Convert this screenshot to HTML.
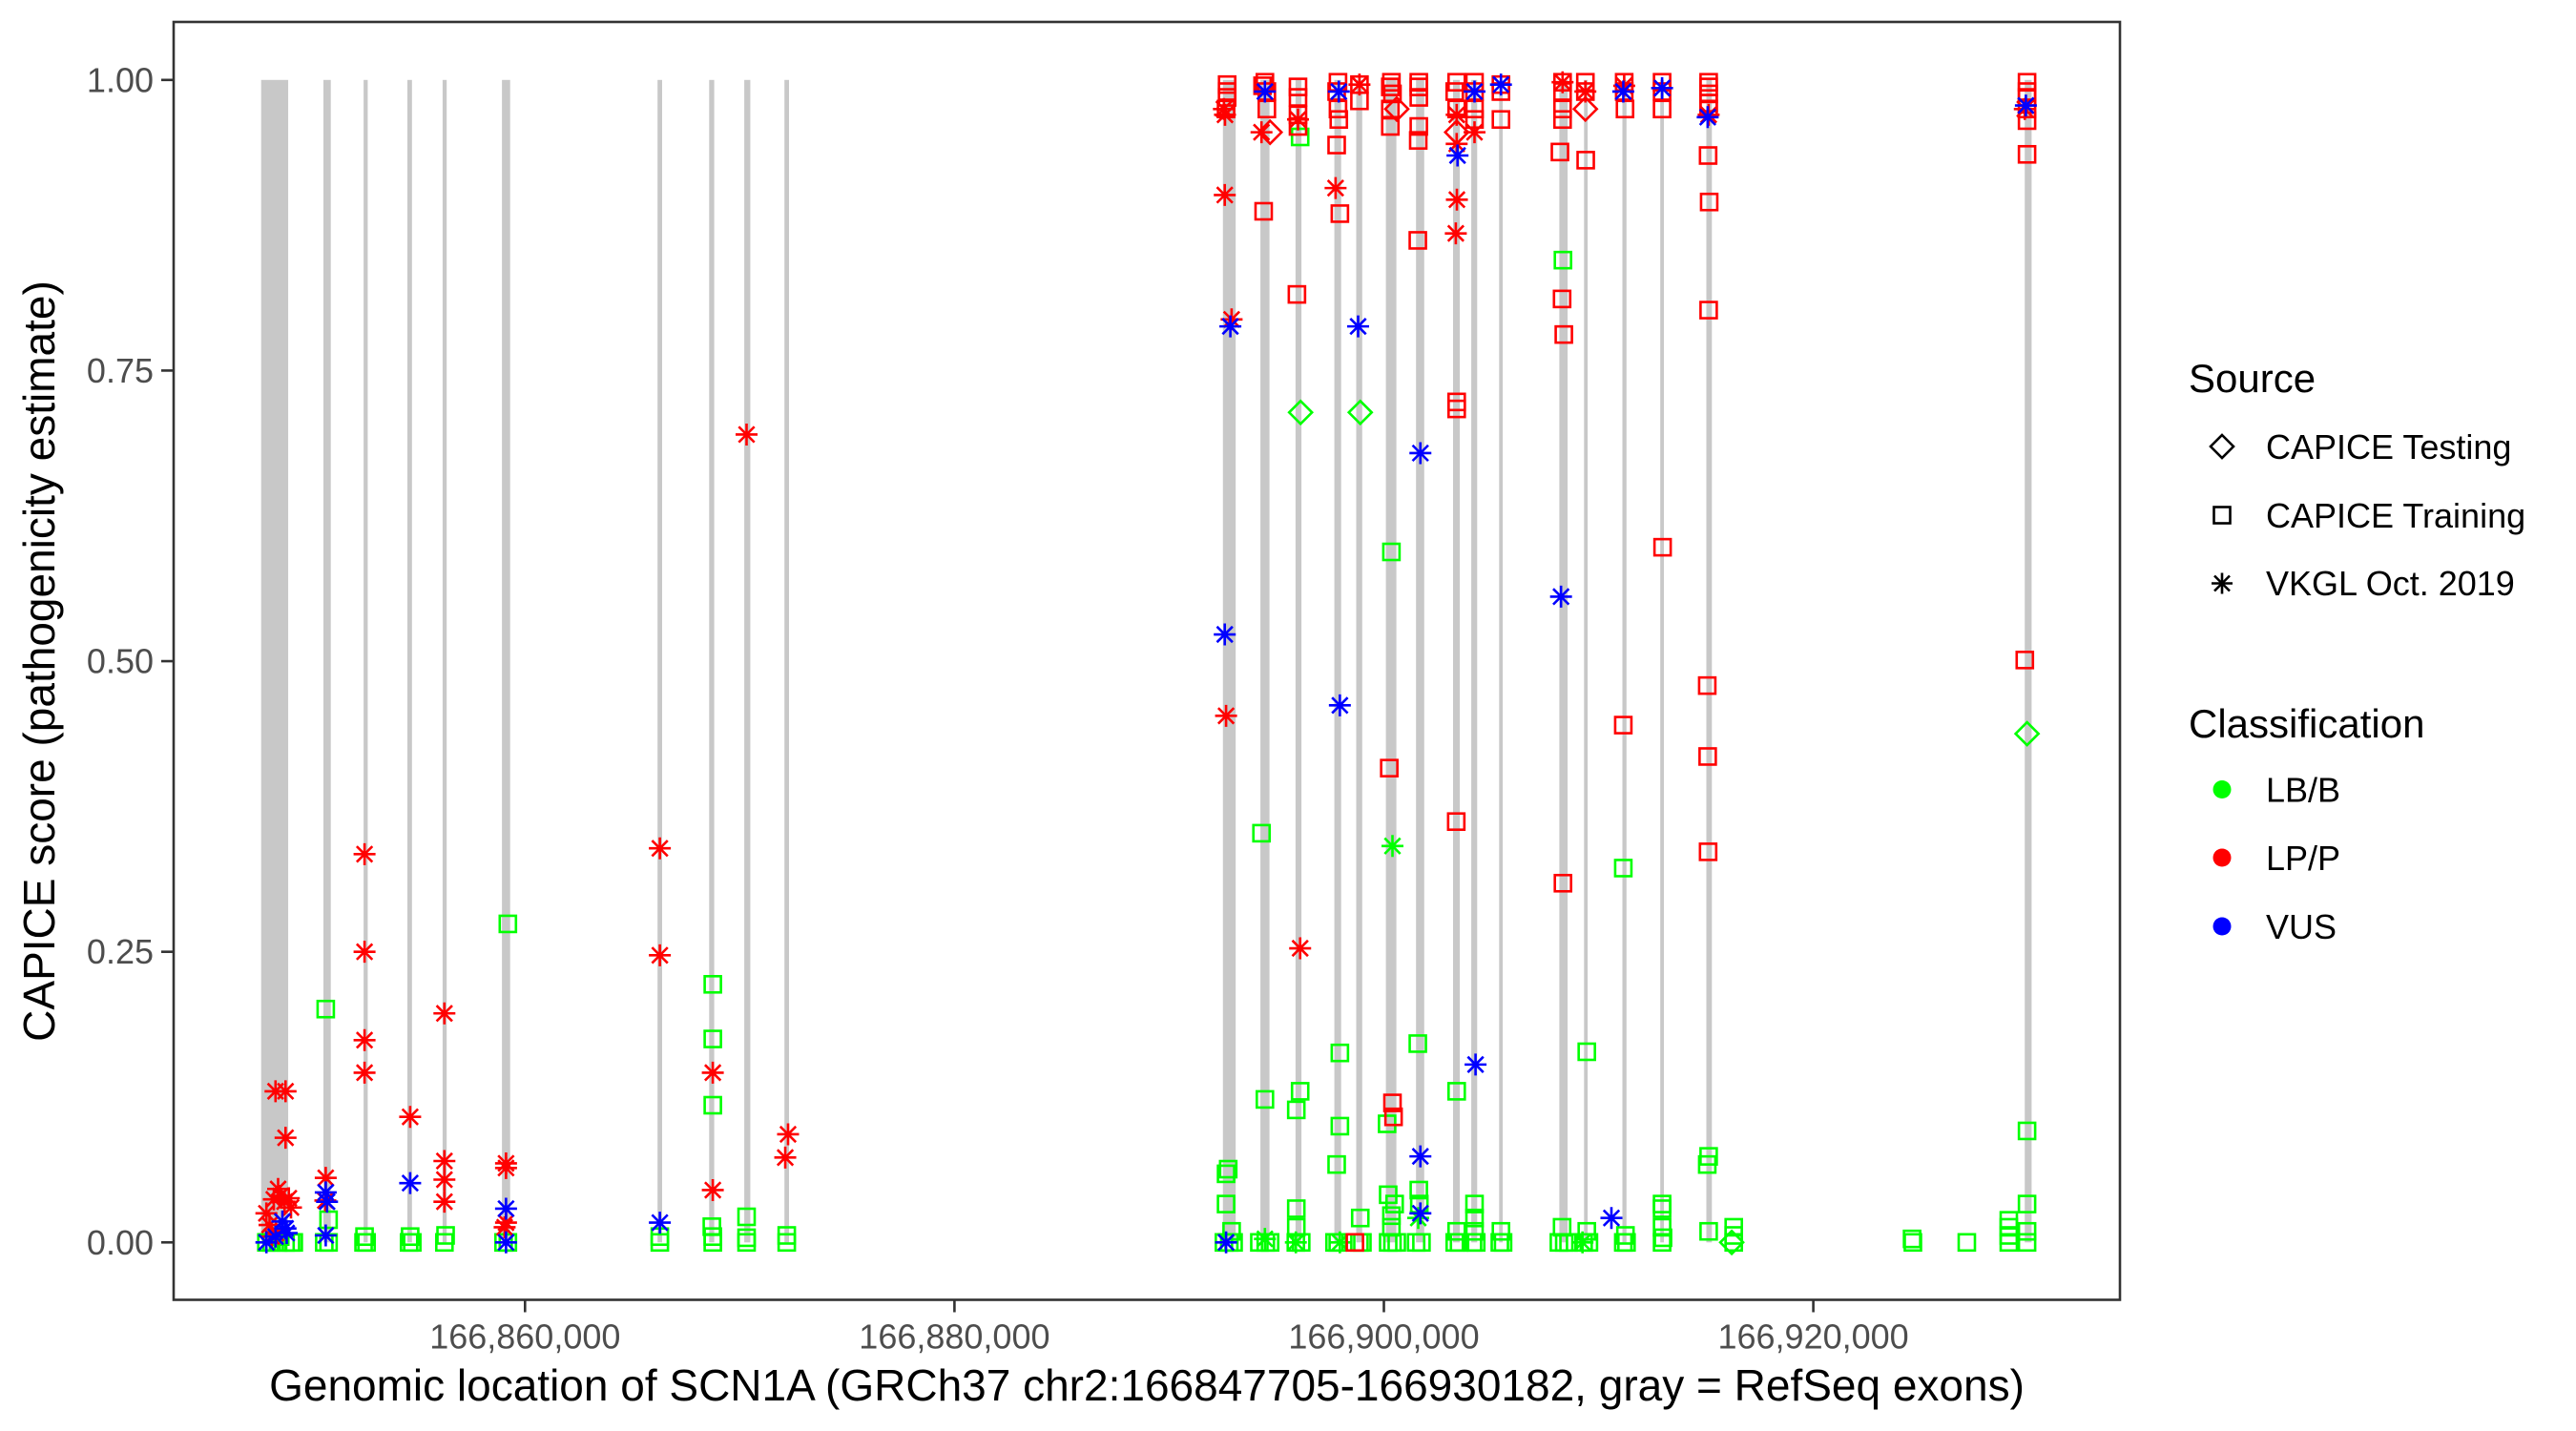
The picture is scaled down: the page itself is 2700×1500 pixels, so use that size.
<!DOCTYPE html>
<html><head><meta charset="utf-8"><style>
html,body{margin:0;padding:0;background:#fff;}
svg{display:block;font-family:"Liberation Sans",Arial,sans-serif;}
</style></head><body>
<svg id="chart" width="2700" height="1500" viewBox="0 0 2700 1500" xmlns="http://www.w3.org/2000/svg">
<rect x="0" y="0" width="2700" height="1500" fill="#fff"/>
<g id="exons"></g>
<g id="points"></g>
<rect x="182" y="23" width="2040" height="1339.5" fill="none" stroke="#333" stroke-width="2.6"/>
<g id="yaxis"></g>
<g id="xaxis"></g>
<text x="1202" y="1468" font-size="46" text-anchor="middle" fill="#000">Genomic location of SCN1A (GRCh37 chr2:166847705-166930182, gray = RefSeq exons)</text>
<text transform="translate(57,693) rotate(-90)" font-size="46" text-anchor="middle" fill="#000">CAPICE score (pathogenicity estimate)</text>
<g id="legend">
<text x="2294" y="411" font-size="42" fill="#000">Source</text>
<polygon points="2329,456 2341,468 2329,480 2317,468" fill="none" stroke="#000" stroke-width="2.6"/>
<text x="2375" y="481" font-size="36" fill="#000">CAPICE Testing</text>
<rect x="2320.5" y="531.5" width="17" height="17" fill="none" stroke="#000" stroke-width="2.6"/>
<text x="2375" y="553" font-size="36" fill="#000">CAPICE Training</text>
<g stroke="#000" stroke-width="2.6"><line x1="2318" y1="611.5" x2="2340" y2="611.5"/><line x1="2329" y1="600.5" x2="2329" y2="622.5"/><line x1="2321" y1="603.5" x2="2337" y2="619.5"/><line x1="2321" y1="619.5" x2="2337" y2="603.5"/></g>
<text x="2375" y="624" font-size="36" fill="#000">VKGL Oct. 2019</text>
<text x="2294" y="773" font-size="42" fill="#000">Classification</text>
<circle cx="2329" cy="827.5" r="9.5" fill="#00FF00"/>
<text x="2375" y="840.5" font-size="36" fill="#000">LB/B</text>
<circle cx="2329" cy="899" r="9.5" fill="#FF0000"/>
<text x="2375" y="912" font-size="36" fill="#000">LP/P</text>
<circle cx="2329" cy="971" r="9.5" fill="#0000FF"/>
<text x="2375" y="984" font-size="36" fill="#000">VUS</text>
</g>
</svg>
<script>
const exonStarts = [166847710,166850611,166852482,166854521,166856161,166858925,166866172,166868576,166870211,166872082,166892503,166894250,166895885,166897693,166898711,166900093,166901497,166903221,166904070,166905367,166908171,166909322,166911108,166912872,166915018,166929847];
const exonEnds   = [166848969,166850953,166852673,166854735,166856352,166859307,166866385,166868811,166870491,166872295,166893098,166894672,166896161,166898009,166898991,166900582,166901879,166903536,166904345,166905536,166908557,166909491,166911299,166913041,166915276,166930167];
const xTicks = [166860000,166880000,166900000,166920000];
const xTickLabels = ["166,860,000","166,880,000","166,900,000","166,920,000"];
const yTicks = [0,0.25,0.5,0.75,1];
const yTickLabels = ["0.00","0.25","0.50","0.75","1.00"];

// training (square) benign
const trainingBenign = [[166847954,0],[166848200,0],[166848500,0],[166848847,0],[166849100,0],[166849229,0],[166848600,0.005],
[166850718,0.2007],[166850850,0.0195],[166850650,0],[166850850,0],[166852480,0],[166852620,0],[166852526,0.005],
[166854600,0],[166854750,0],[166854650,0.005],[166856245,0],[166856300,0.006],[166859200,0.274],[166859000,0],[166859200,0],
[166866279,0],[166866279,0.005],[166868745,0.222],[166868745,0.175],[166868745,0.118],[166868700,0.0135],[166868745,0],[166868745,0.005],
[166870318,0.022],[166870318,0],[166870318,0.004],[166872189,0.006],[166872189,0],
[166892750,0.063],[166892650,0.059],[166892650,0.033],[166892908,0.0095],[166892550,0],[166892800,0],[166893000,0],
[166894300,0.352],[166894459,0.123],[166894200,0],[166894500,0],[166894700,0],
[166896100,0.951],[166896100,0.130],[166895920,0.114],[166895920,0.029],[166895920,0.013],[166895900,0],[166896150,0],
[166897950,0.163],[166897950,0.100],[166897800,0.067],[166897850,0],[166897700,0],
[166898900,0.021],[166898862,0],[166899000,0],
[166900351,0.594],[166900150,0.102],[166900200,0.041],[166900500,0.033],[166900351,0.023],[166900351,0.013],[166900200,0],[166900400,0],[166900600,0],
[166901580,0.171],[166901626,0.045],[166901650,0.033],[166901500,0],[166901750,0],
[166903390,0.130],[166903390,0.0095],[166903300,0],[166903500,0],
[166904221,0.033],[166904221,0.021],[166904221,0.0095],[166904150,0],[166904300,0],
[166905452,0.0095],[166905400,0],[166905550,0],
[166908340,0.845],[166908300,0.013],[166908150,0],[166908400,0],[166908600,0],
[166909450,0.164],[166909450,0.0095],[166909300,0],[166909550,0],
[166911150,0.322],[166911150,0],[166911300,0],[166911250,0.006],
[166912957,0.033],[166912957,0.029],[166912957,0.013],[166912957,0],[166913000,0.004],
[166915125,0.074],[166915060,0.067],[166915125,0.0095],
[166916294,0.013],[166916294,0.006],[166916294,0],
[166929954,0.0959],[166929954,0.033],[166929954,0.0095],[166929954,0],
[166924638,0],[166924600,0.003],[166927149,0],[166929104,0],[166929104,0.006],[166929104,0.013],[166929104,0.019]];
// training (square) pathogenic
const trainingPathogenic = [[166892700,0.996],[166892700,0.99],[166892650,0.975],[166892700,0.985],
[166894459,0.998],[166894350,0.995],[166894550,0.99],[166894550,0.975],[166894400,0.887],
[166896000,0.994],[166896000,0.985],[166896000,0.97],[166896000,0.96],[166895950,0.8155],
[166897862,0.998],[166897800,0.99],[166897862,0.975],[166897900,0.966],[166897800,0.944],[166897950,0.885],
[166898862,0.996],[166898862,0.982],[166898650,0],
[166900351,0.998],[166900300,0.994],[166900400,0.988],[166900300,0.975],[166900300,0.96],[166900251,0.408],[166900400,0.12],[166900450,0.108],
[166901626,0.998],[166901626,0.994],[166901626,0.985],[166901626,0.96],[166901600,0.948],[166901580,0.862],
[166903390,0.998],[166903300,0.99],[166903390,0.975],[166903390,0.723],[166903390,0.717],[166903370,0.362],
[166904221,0.998],[166904221,0.99],[166904221,0.975],[166904221,0.966],
[166905452,0.996],[166905452,0.99],[166905452,0.966],
[166908322,0.998],[166908322,0.99],[166908322,0.975],[166908322,0.966],[166908200,0.938],[166908300,0.8116],[166908380,0.781],[166908340,0.309],
[166909384,0.998],[166909384,0.99],[166909400,0.931],
[166911192,0.998],[166911192,0.99],[166911230,0.975],[166911150,0.445],
[166912957,0.998],[166912957,0.99],[166912957,0.975],[166912980,0.598],
[166915125,0.998],[166915125,0.994],[166915125,0.988],[166915125,0.98],[166915125,0.975],[166915100,0.935],[166915150,0.895],[166915125,0.802],[166915060,0.479],[166915080,0.418],[166915100,0.336],
[166929954,0.998],[166929954,0.99],[166929954,0.985],[166929954,0.975],[166929954,0.965],[166929954,0.936],[166929850,0.501]];
// testing (diamond)
const testingBenign = [[166896120,0.714],[166898900,0.714],[166916200,0],[166929954,0.4376]];
const testingPathogenic = [[166894700,0.955],[166900600,0.975],[166903390,0.955],[166909384,0.975]];
// VKGL (asterisk)
const vkglBenign = [[166894459,0.003],[166895900,0],[166897950,0],[166900400,0.341],[166901600,0.021],[166909250,0]];
const vkglPathogenic = [[166848380,0.130],[166848847,0.130],[166848847,0.090],[166847954,0.025],[166848100,0.015],[166848300,0.037],[166848500,0.046],[166848600,0.04],[166848800,0.035],[166849000,0.038],[166849100,0.03],[166848200,0.005],[166848400,0.008],
[166850718,0.0555],[166850700,0.036],
[166852526,0.334],[166852526,0.25],[166852526,0.174],[166852526,0.146],
[166854650,0.108],
[166856245,0.197],[166856245,0.07],[166856245,0.054],[166856245,0.035],
[166859115,0.068],[166859115,0.064],[166859115,0.017],[166859050,0.013],
[166866279,0.339],[166866279,0.247],
[166868745,0.146],[166868745,0.045],
[166870318,0.695],
[166872250,0.093],[166872120,0.073],
[166892600,0.97],[166892589,0.901],[166892908,0.794],[166892650,0.453],[166892550,0.975],
[166894300,0.955],
[166896000,0.966],[166896100,0.253],
[166897750,0.907],
[166898862,0.996],
[166903390,0.97],[166903390,0.945],[166903400,0.897],[166903350,0.868],
[166904221,0.955],
[166908322,0.998],
[166909384,0.99],
[166911192,0.995],
[166915125,0.97],
[166929850,0.975]];
const vkglVUS = [[166847954,0.0],[166848380,0.005],[166848700,0.018],[166848847,0.012],[166848900,0.008],
[166850718,0.043],[166850780,0.035],[166850718,0.006],
[166854650,0.051],[166859115,0.029],[166859115,0.0],[166866279,0.017],
[166892850,0.788],[166892589,0.523],[166892650,0.0],
[166894459,0.99],
[166897900,0.99],[166897950,0.462],
[166898800,0.788],
[166901700,0.679],[166901700,0.074],[166901700,0.025],
[166903430,0.935],
[166904221,0.99],[166904270,0.153],
[166905452,0.996],
[166908250,0.5555],
[166910597,0.021],
[166911150,0.99],
[166912957,0.993],
[166915080,0.968],
[166929900,0.978]];

const NS = "http://www.w3.org/2000/svg";
function xScale(bp){ return 550.3 + (bp - 166860000) * 0.022505; }
function yScale(v){ return 1302.3 - v * 1218.5; }
function mk(tag, attrs, parent){ const e = document.createElementNS(NS, tag); for (const k in attrs) e.setAttribute(k, attrs[k]); parent.appendChild(e); return e; }

const gEx = document.getElementById('exons');
for (let i = 0; i < exonStarts.length; i++) {
  const x0 = xScale(exonStarts[i]), x1 = xScale(exonEnds[i]);
  const r = mk('rect', {x: x0, y: yScale(1), width: Math.max(x1 - x0, 1), height: yScale(0) - yScale(1), fill: '#c8c8c8'}, gEx);
  
  
}

const gY = document.getElementById('yaxis');
for (let i = 0; i < yTicks.length; i++) {
  const y = yScale(yTicks[i]);
  const l = mk('line', {x1: 169, x2: 182, y1: y, y2: y, stroke: '#333', 'stroke-width': 2.6}, gY);
  
  
  const t = mk('text', {x: 161, y: y + 12.5, 'font-size': 36, 'text-anchor': 'end', fill: '#4d4d4d'}, gY);
  t.textContent = yTickLabels[i];
  
  
}
const gX = document.getElementById('xaxis');
for (let i = 0; i < xTicks.length; i++) {
  const x = xScale(xTicks[i]);
  const l = mk('line', {x1: x, x2: x, y1: 1362.5, y2: 1375.5, stroke: '#333', 'stroke-width': 2.6}, gX);
  
  
  const t = mk('text', {x: x, y: 1413.5, 'font-size': 36, 'text-anchor': 'middle', fill: '#4d4d4d'}, gX);
  t.textContent = xTickLabels[i];
  
  
}

const gP = document.getElementById('points');
function drawSquare(d, color){
  const x = xScale(d[0]), y = yScale(d[1]);
  const e = mk('rect', {x: x - 8.5, y: y - 8.5, width: 17, height: 17, fill: 'none', stroke: color, 'stroke-width': 2.6}, gP);
  
  
}
function drawDiamond(d, color){
  const x = xScale(d[0]), y = yScale(d[1]);
  const e = mk('polygon', {points: `${x},${y-12} ${x+12},${y} ${x},${y+12} ${x-12},${y}`, fill: 'none', stroke: color, 'stroke-width': 2.6}, gP);
  
  
}
function drawStar(d, color){
  const x = xScale(d[0]), y = yScale(d[1]);
  const a = 11.5, b = 8.2;
  const e = mk('path', {d: `M${x-a},${y}H${x+a}M${x},${y-a}V${y+a}M${x-b},${y-b}L${x+b},${y+b}M${x-b},${y+b}L${x+b},${y-b}`, fill: 'none', stroke: color, 'stroke-width': 2.6}, gP);
  
  
}
const G = '#00FF00', R = '#FF0000', B = '#0000FF';
trainingBenign.forEach(d => drawSquare(d, G));
testingBenign.forEach(d => drawDiamond(d, G));
vkglBenign.forEach(d => drawStar(d, G));
trainingPathogenic.forEach(d => drawSquare(d, R));
testingPathogenic.forEach(d => drawDiamond(d, R));
vkglPathogenic.forEach(d => drawStar(d, R));
vkglVUS.forEach(d => drawStar(d, B));
</script>
</body></html>
